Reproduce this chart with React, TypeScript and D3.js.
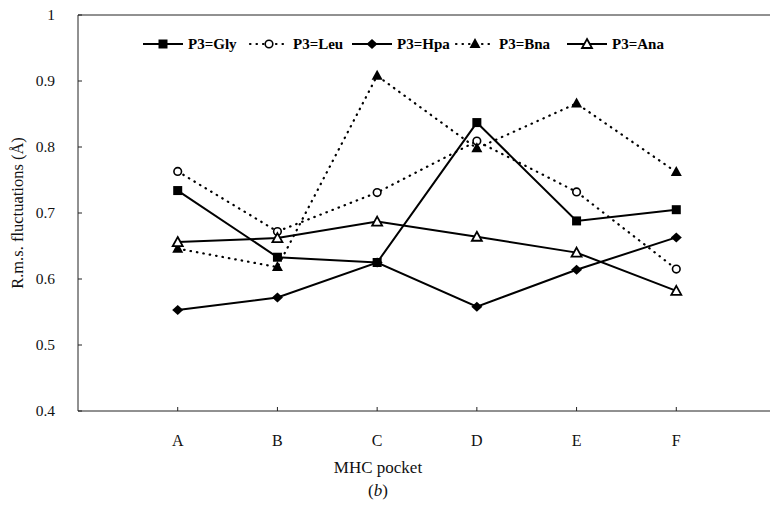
import React, { useEffect, useRef } from 'react'
import * as d3 from 'd3'

// MHC pockets on the x axis
const pockets = ['A', 'B', 'C', 'D', 'E', 'F']

// r.m.s. fluctuations per P3 substitution
const gly = [0.734, 0.633, 0.625, 0.837, 0.688, 0.705]
const leu = [0.763, 0.672, 0.731, 0.809, 0.732, 0.615]
const hpa = [0.553, 0.572, 0.625, 0.558, 0.614, 0.663]
const bna = [0.646, 0.618, 0.908, 0.798, 0.866, 0.762]
const ana = [0.656, 0.662, 0.687, 0.664, 0.640, 0.582]

const seriesNames = ['P3=Gly', 'P3=Leu', 'P3=Hpa', 'P3=Bna', 'P3=Ana']
const yTicks = [0.4, 0.5, 0.6, 0.7, 0.8, 0.9, 1]

const W = 770
const H = 513
const FONT = '"Liberation Serif", "Times New Roman", serif'

export default function App() {
    const ref = useRef<SVGSVGElement>(null)

    useEffect(() => {
        const svg = d3.select(ref.current)
        svg.selectAll('*').remove()

        const left = 78, right = 776, top = 15, bottom = 411

        // x: one empty slot on each side of A..F
        const x = d3.scaleLinear().domain([0, pockets.length + 1]).range([left, right])
        const y = d3.scaleLinear().domain([0.4, 1]).range([bottom, top])

        const series = [
            { name: seriesNames[0], values: gly, dotted: false, marker: 'square' },
            { name: seriesNames[1], values: leu, dotted: true, marker: 'circle' },
            { name: seriesNames[2], values: hpa, dotted: false, marker: 'diamond' },
            { name: seriesNames[3], values: bna, dotted: true, marker: 'triangleFill' },
            { name: seriesNames[4], values: ana, dotted: false, marker: 'triangleOpen' },
        ]

        // frame lines
        const axisG = svg.append('g').attr('stroke', '#222').attr('stroke-width', 1).attr('fill', 'none')
        axisG.append('line').attr('x1', left).attr('x2', left).attr('y1', top).attr('y2', bottom)
        axisG.append('line').attr('x1', left).attr('x2', W).attr('y1', bottom).attr('y2', bottom)
        axisG.append('line').attr('x1', left).attr('x2', W).attr('y1', top).attr('y2', top)

        // y ticks (inward) and labels
        yTicks.forEach(t => {
            axisG.append('line').attr('x1', left).attr('x2', left + 4).attr('y1', y(t)).attr('y2', y(t))
            svg.append('text')
                .attr('x', 55).attr('y', y(t)).attr('dy', '0.35em')
                .attr('text-anchor', 'end')
                .attr('font-family', FONT).attr('font-size', 15.5).attr('fill', '#111')
                .text(d3.format('')(t))
        })

        // x ticks and labels
        pockets.forEach((p, i) => {
            axisG.append('line').attr('x1', x(i + 1)).attr('x2', x(i + 1)).attr('y1', bottom).attr('y2', bottom - 4)
            svg.append('text')
                .attr('x', x(i + 1)).attr('y', 446)
                .attr('text-anchor', 'middle')
                .attr('font-family', FONT).attr('font-size', 16).attr('fill', '#111')
                .text(p)
        })

        svg.append('text')
            .attr('x', 378).attr('y', 473)
            .attr('text-anchor', 'middle')
            .attr('font-family', FONT).attr('font-size', 17).attr('fill', '#111')
            .text('MHC pocket')
        const b = svg.append('text')
            .attr('x', 378).attr('y', 496)
            .attr('text-anchor', 'middle')
            .attr('font-family', FONT).attr('font-size', 17).attr('fill', '#111')
        b.append('tspan').text('(')
        b.append('tspan').attr('font-style', 'italic').text('b')
        b.append('tspan').text(')')

        svg.append('text')
            .attr('transform', 'translate(23,' + 213 + ') rotate(-90)')
            .attr('text-anchor', 'middle')
            .attr('font-family', FONT).attr('font-size', 16.5).attr('fill', '#111')
            .text('R.m.s. fluctuations (Å)')

        const drawMarker = (g: any, kind: string, cx: number, cy: number) => {
            if (kind === 'square') {
                g.append('rect').attr('x', cx - 4.5).attr('y', cy - 4.5).attr('width', 9).attr('height', 9).attr('fill', '#000')
            } else if (kind === 'circle') {
                g.append('circle').attr('cx', cx).attr('cy', cy).attr('r', 3.8)
                    .attr('fill', '#fff').attr('stroke', '#000').attr('stroke-width', 1.6)
            } else if (kind === 'diamond') {
                g.append('path').attr('d', `M${cx},${cy - 5}L${cx + 5.5},${cy}L${cx},${cy + 5}L${cx - 5.5},${cy}Z`).attr('fill', '#000')
            } else if (kind === 'triangleFill') {
                g.append('path').attr('d', `M${cx},${cy - 6}L${cx + 5.5},${cy + 4}L${cx - 5.5},${cy + 4}Z`).attr('fill', '#000')
            } else {
                g.append('path').attr('d', `M${cx},${cy - 5}L${cx + 5},${cy + 4}L${cx - 5},${cy + 4}Z`)
                    .attr('fill', '#fff').attr('stroke', '#000').attr('stroke-width', 1.8)
            }
        }

        const line = d3.line<number>().x((d, i) => x(i + 1)).y(d => y(d))

        series.forEach(s => {
            svg.append('path')
                .attr('d', line(s.values))
                .attr('fill', 'none')
                .attr('stroke', '#000')
                .attr('stroke-width', s.dotted ? 2.2 : 2)
                .attr('stroke-linecap', s.dotted ? 'round' : 'butt')
                .attr('stroke-dasharray', s.dotted ? '0.5 6' : null)
        })
        series.forEach(s => {
            const g = svg.append('g')
            s.values.forEach((v, i) => drawMarker(g, s.marker, x(i + 1), y(v)))
        })

        // legend
        const legendX = [143, 250, 352, 456, 567]
        const legendY = 44
        series.forEach((s, i) => {
            const lx = legendX[i]
            const g = svg.append('g')
            const len = s.dotted ? 38 : 40
            g.append('line')
                .attr('x1', lx).attr('x2', lx + len).attr('y1', legendY).attr('y2', legendY)
                .attr('stroke', '#000')
                .attr('stroke-width', s.dotted ? 2.2 : 2)
                .attr('stroke-linecap', s.dotted ? 'round' : 'butt')
                .attr('stroke-dasharray', s.dotted ? '0.5 6' : null)
            drawMarker(g, s.marker, lx + len / 2, legendY)
            g.append('text')
                .attr('x', lx + len + 5).attr('y', legendY).attr('dy', '0.35em')
                .attr('font-family', FONT).attr('font-size', 15).attr('font-weight', 'bold')
                .text(s.name)
        })
    }, [])

    return (
        <svg ref={ref} width={W} height={H} style={{ position: 'absolute', left: 0, top: 0, background: '#fff' }} />
    )
}
